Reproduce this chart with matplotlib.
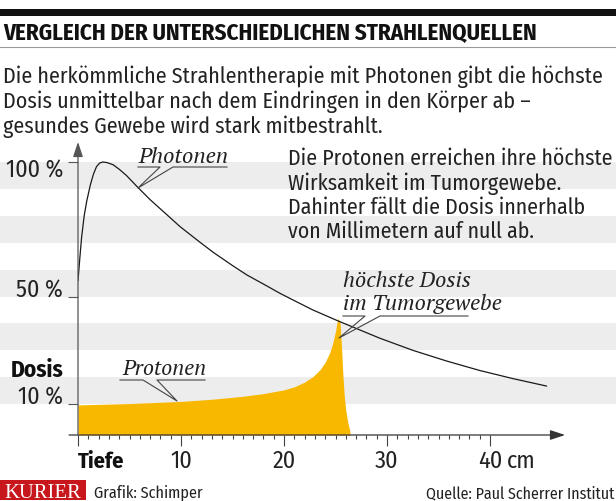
import matplotlib
matplotlib.use('Agg')
import matplotlib.pyplot as plt
from matplotlib.patches import Rectangle
from matplotlib.lines import Line2D
from matplotlib.textpath import TextPath
from matplotlib.font_manager import FontProperties, fontManager

# ---------------- data ----------------
photon_depth = [0, 0.15, 0.35, 0.6, 0.85, 1.2, 1.5, 1.8, 2.1, 2.4, 2.8, 3.4, 4.0, 4.7, 5.7, 7.0,
                8.6, 9.9, 11.8, 13.1, 15.0, 16.4, 18.3, 19.6, 21.5, 22.8, 25.2, 29.3, 32.5, 35.8,
                39.0, 42.2, 45.5]
photon_dose = [55.8, 63, 72, 80, 85.5, 91.5, 95.5, 98.3, 99.6, 100, 99.8, 99, 97.3, 95, 91, 86,
               80.5, 76, 70.3, 66.5, 61.5, 58, 54, 51.2, 47.5, 45, 41, 34.5, 30, 26, 22.5, 19.5,
               16.7]

proton_depth = [0, 5, 10, 13, 16, 18, 20, 21, 22, 22.8, 23.5, 24.0, 24.4, 24.7, 25.0, 25.15,
                25.25, 25.45, 25.6, 25.7, 25.85, 26.0, 26.2, 26.4]
proton_dose = [9.7, 10.2, 11.0, 11.8, 12.9, 13.9, 15.3, 16.4, 18.2, 20.2, 22.8, 25.6, 28.8, 32.2,
               37, 40.5, 42, 40, 30, 22, 13, 7.5, 3, 0]

y_ticks = [10, 50, 100]
y_tick_labels = ['10 %', '50 %', '100 %']
x_major = [0, 10, 20, 30, 40]
x_major_labels = ['', '10', '20', '30', '40']
x_minor = [i for i in range(1, 40) if i % 10]
bands = [(10, 20), (30, 40), (50, 60), (70, 80), (90, 100)]

title = 'VERGLEICH DER UNTERSCHIEDLICHEN STRAHLENQUELLEN'
subtitle = ['Die herkömmliche Strahlentherapie mit Photonen gibt die höchste',
            'Dosis unmittelbar nach dem Eindringen in den Körper ab –',
            'gesundes Gewebe wird stark mitbestrahlt.']
right_text = ['Die Protonen erreichen ihre höchste',
              'Wirksamkeit im Tumorgewebe.',
              'Dahinter fällt die Dosis innerhalb',
              'von Millimetern auf null ab.']

# ---------------- fonts ----------------
names = {f.name for f in fontManager.ttflist}
SANS = dict(family='DejaVu Sans', stretch='condensed')
for cand in ['Fira Sans Condensed', 'Barlow Semi Condensed', 'Roboto Condensed']:
    if cand in names:
        SANS = dict(family=cand)
        break
SERIF = dict(family='Liberation Serif', style='italic')
for cand in ['PT Serif', 'Noto Serif']:
    if cand in names:
        SERIF = dict(family=cand, style='italic')
        break

W, H, DPI = 616, 502, 100


def fit(s, width_px, **kw):
    fp = FontProperties(**kw)
    w = TextPath((0, 0), s, size=10, prop=fp).get_extents().width
    return 10 * (width_px * 72 / DPI) / w


def fx(px):
    return px / W


def fy(py):
    return 1 - py / H


DARK = '#222222'
YELLOW = '#F8B800'
GREY_BAND = '#EDEDED'

fig = plt.figure(figsize=(W / DPI, H / DPI), dpi=DPI)
fig.patch.set_facecolor('white')

TOP_PX, BOT_PX, LEFT_PX, RIGHT_PX = 140, 436, 78, 570
PX_PER_CM = 10.3
PX_PER_PCT = 2.69
Y0 = -(BOT_PX - 163) / PX_PER_PCT + 100
Y1 = 100 + (163 - TOP_PX) / PX_PER_PCT
rect_y = fy(BOT_PX)
rect_h = (BOT_PX - TOP_PX) / H

ax_bg = fig.add_axes([0, rect_y, 1, rect_h], zorder=0)
ax_bg.set_ylim(Y0, Y1)
ax_bg.set_xlim(0, 1)
ax_bg.axis('off')
for lo, hi in bands:
    ax_bg.axhspan(lo, hi, color=GREY_BAND, lw=0)

ax = fig.add_axes([fx(LEFT_PX), rect_y, (RIGHT_PX - LEFT_PX) / W, rect_h], zorder=1)
ax.patch.set_alpha(0)
ax.set_ylim(Y0, Y1)
ax.set_xlim(0, (RIGHT_PX - LEFT_PX) / PX_PER_CM)
for s in ax.spines.values():
    s.set_visible(False)

ax.fill_between(proton_depth, proton_dose, Y0, color=YELLOW, lw=0, zorder=2)
ax.plot(photon_depth, photon_dose, color='#1a1a1a', lw=0.9, zorder=3, solid_capstyle='round',
        solid_joinstyle='round')

ax.annotate('', xy=((565 - LEFT_PX) / PX_PER_CM, Y0), xytext=(-0.87, Y0),
            arrowprops=dict(arrowstyle='-|>,head_length=0.9,head_width=0.3', lw=0.9,
                            color='#333333', shrinkA=0, shrinkB=0),
            annotation_clip=False, zorder=5)
ax.annotate('', xy=(0, 100 + (163 - 143) / PX_PER_PCT), xytext=(0, Y0),
            arrowprops=dict(arrowstyle='-|>,head_length=0.9,head_width=0.3', lw=0.9,
                            color='#555555', shrinkA=0, shrinkB=0),
            annotation_clip=False, zorder=5)

ax.set_xticks(x_major)
ax.set_xticklabels([])
ax.set_xticks(x_minor, minor=True)
ax.tick_params(axis='x', which='major', direction='out', length=7.9, width=0.8, color='#444444')
ax.tick_params(axis='x', which='minor', direction='out', length=2.9, width=0.8, color='#444444')
ax.set_yticks(y_ticks)
ax.set_yticklabels([])
ax.tick_params(axis='y', which='major', direction='out', length=7.2, width=0.8, color='#555555')

ytick_size = fit('100 %', 56, **SANS)
ytr = ax.get_yaxis_transform()
for v, lab in zip(y_ticks, y_tick_labels):
    yb = v - 15 / PX_PER_PCT if v == 100 else v
    ax.text(-(78 - 63) / (RIGHT_PX - LEFT_PX), yb, lab, transform=ytr,
            ha='right', va='baseline', fontsize=ytick_size, color=DARK, **SANS)

xtick_size = fit('40 cm', 56, **SANS)
xtr = ax.get_xaxis_transform()
xlab_y = -(468 - BOT_PX) / (BOT_PX - TOP_PX)
for v, lab in zip(x_major, x_major_labels):
    if lab:
        ax.text(v, xlab_y, lab, transform=xtr, ha='center', va='baseline',
                fontsize=xtick_size, color=DARK, **SANS)
ax.text((507 - LEFT_PX) / PX_PER_CM, xlab_y, 'cm', transform=xtr, ha='left', va='baseline',
        fontsize=xtick_size, color=DARK, **SANS)

fig.text(fx(LEFT_PX), fy(468), 'Tiefe', ha='left', va='baseline', weight='bold',
         fontsize=fit('Tiefe', 46, weight='bold', **SANS), color='#111111', **SANS)
fig.text(fx(63), fy(377), 'Dosis', ha='right', va='baseline', weight='bold',
         fontsize=fit('Dosis', 51, weight='bold', **SANS), color='#111111', **SANS)


def px2d(px, py):
    return (px - LEFT_PX) / PX_PER_CM, 100 - (py - 163) / PX_PER_PCT


def callout(lines, text_left, baselines, ul_y, seg1, seg2, tip, width_px, width_line):
    size = fit(lines[width_line], width_px, **SERIF)
    for ln, b in zip(lines, baselines):
        x, y = px2d(text_left, b)
        ax.text(x, y, ln, ha='left', va='baseline', fontsize=size, color=DARK, zorder=6, **SERIF)
    xs = [seg1[0], seg1[1], tip[0], seg2[0], seg2[1]]
    ys = [ul_y, ul_y, tip[1], ul_y, ul_y]
    pts = [px2d(a, b) for a, b in zip(xs, ys)]
    ax.plot([p[0] for p in pts], [p[1] for p in pts], color='#444444', lw=0.8, zorder=6,
            clip_on=False)


callout(['Photonen'], 138, [163], 168, (138, 160), (173, 227), (138, 189), 89, 0)
callout(['Protonen'], 122, [375], 381, (120, 143), (157, 205), (177, 402), 83, 0)
callout(['höchste Dosis', 'im Tumorgewebe'], 343, [287, 310], 317, (343, 365), (380, 468),
        (339, 339), 157, 1)

fig.patches.append(Rectangle((0, fy(17)), 1, 7 / H, transform=fig.transFigure,
                             color='#111111', lw=0))
fig.text(fx(3), fy(40), title, ha='left', va='baseline', weight='bold', color='#111111',
         fontsize=fit(title, 533, weight='bold', **SANS), **SANS)
fig.lines.append(Line2D([0, 1], [fy(48), fy(48)], transform=fig.transFigure,
                        color='#9a9a9a', lw=0.8))
sub_size = fit(subtitle[0], 596, **SANS)
for ln, b in zip(subtitle, [83, 108, 133]):
    fig.text(fx(3), fy(b), ln, ha='left', va='baseline', fontsize=sub_size, color=DARK, **SANS)

rt_size = fit(right_text[0], 321, **SANS)
for ln, b in zip(right_text, [165, 190, 214, 238]):
    fig.text(fx(288), fy(b), ln, ha='left', va='baseline', fontsize=rt_size, color=DARK,
             zorder=5, **SANS)

fig.patches.append(Rectangle((0, fy(501)), 86 / W, 20 / H, transform=fig.transFigure,
                             color='#C8161D', lw=0))
fig.text(fx(43), fy(498), 'KURIER', ha='center', va='baseline', color='white',
         fontsize=fit('KURIER', 76, family='Liberation Serif'), family='Liberation Serif')
fig.text(fx(94), fy(498), 'Grafik: Schimper', ha='left', va='baseline', color=DARK,
         fontsize=fit('Grafik: Schimper', 108, **SANS), **SANS)
fig.text(fx(614), fy(498), 'Quelle: Paul Scherrer Institut', ha='right', va='baseline',
         color=DARK, fontsize=fit('Quelle: Paul Scherrer Institut', 187, **SANS), **SANS)

fig.savefig('out.png', dpi=DPI)
